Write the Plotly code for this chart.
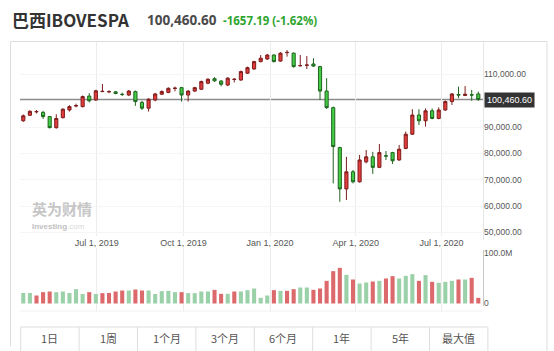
import plotly.graph_objects as go

W, H = 554, 351

# ---------------- data ----------------
dates = [
    "2019-04-14", "2019-04-21", "2019-04-28", "2019-05-05", "2019-05-12", "2019-05-19", "2019-05-26",
    "2019-06-02", "2019-06-09", "2019-06-16", "2019-06-23", "2019-06-30", "2019-07-07", "2019-07-14",
    "2019-07-21", "2019-07-28", "2019-08-04", "2019-08-11", "2019-08-18", "2019-08-25", "2019-09-01",
    "2019-09-08", "2019-09-15", "2019-09-22", "2019-09-29", "2019-10-06", "2019-10-13", "2019-10-20",
    "2019-10-27", "2019-11-03", "2019-11-10", "2019-11-17", "2019-11-24", "2019-12-01", "2019-12-08",
    "2019-12-15", "2019-12-22", "2019-12-29", "2020-01-05", "2020-01-12", "2020-01-19", "2020-01-26",
    "2020-02-02", "2020-02-09", "2020-02-16", "2020-02-23", "2020-03-01", "2020-03-08", "2020-03-15",
    "2020-03-22", "2020-03-29", "2020-04-05", "2020-04-12", "2020-04-19", "2020-04-26", "2020-05-03",
    "2020-05-10", "2020-05-17", "2020-05-24", "2020-05-31", "2020-06-07", "2020-06-14", "2020-06-21",
    "2020-06-28", "2020-07-05", "2020-07-12", "2020-07-19", "2020-07-26", "2020-08-02", "2020-08-09",
]
open_k = [92.4, 94.5, 95.8, 95.6, 94.0, 89.8, 93.6, 96.5, 98.0, 97.8, 101.8, 100.3, 103.5, 103.4,
          103.4, 102.5, 102.2, 103.5, 99.4, 97.2, 100.3, 102.5, 103.2, 104.7, 105.0, 102.2, 103.7, 104.4,
          106.7, 108.4, 107.5, 106.0, 108.1, 107.9, 110.5, 112.1, 114.9, 115.9, 117.4, 115.1, 118.3, 118.1,
          113.3, 113.5, 114.0, 113.0, 103.7, 97.4, 82.2, 66.5, 73.0, 69.2, 76.8, 78.7, 74.7, 79.1,
          80.3, 77.5, 81.9, 87.3, 94.6, 92.4, 96.2, 93.3, 96.5, 99.7, 102.4, 102.0, 102.3, 102.6]
high_k = [94.8, 96.4, 96.5, 96.2, 94.2, 94.9, 97.2, 98.3, 98.9, 102.0, 102.9, 104.2, 106.4, 104.0,
          103.7, 103.1, 104.1, 103.9, 100.0, 101.0, 103.0, 104.0, 105.1, 105.4, 105.3, 104.0, 105.3, 107.7,
          108.6, 109.0, 107.9, 109.0, 108.6, 111.5, 113.0, 115.2, 117.4, 117.8, 117.7, 118.5, 119.3, 118.4,
          117.4, 117.0, 116.2, 113.3, 108.6, 97.8, 82.5, 78.7, 73.7, 79.4, 81.3, 80.6, 83.6, 80.9,
          80.6, 83.2, 88.3, 96.8, 96.8, 97.1, 97.1, 97.5, 100.1, 102.9, 105.4, 105.6, 104.1, 103.5]
low_k = [92.0, 94.2, 95.2, 93.1, 89.5, 89.4, 93.3, 95.9, 97.5, 97.5, 99.4, 100.0, 103.3, 102.9,
         102.5, 101.8, 101.8, 98.1, 96.5, 95.9, 99.8, 102.2, 102.9, 103.6, 99.7, 99.7, 103.4, 104.1,
         106.3, 107.2, 105.5, 105.6, 107.0, 107.6, 110.2, 111.8, 114.6, 115.5, 114.6, 114.9, 116.8, 112.6,
         113.1, 112.1, 112.9, 100.3, 96.9, 68.6, 61.6, 62.3, 68.6, 68.9, 76.2, 72.2, 74.4, 77.5,
         76.0, 77.2, 81.6, 87.0, 90.8, 90.2, 93.0, 93.0, 96.2, 98.4, 101.0, 101.8, 100.0, 100.0]
close_k = [94.3, 96.0, 95.9, 94.0, 89.8, 93.3, 96.8, 97.8, 98.2, 101.6, 100.0, 103.8, 103.6, 103.5,
           102.8, 102.4, 103.7, 99.7, 97.2, 100.6, 102.6, 103.5, 104.75, 104.8, 102.2, 103.7, 105.0, 107.3,
           108.2, 107.6, 106.3, 108.6, 108.2, 111.1, 112.6, 114.9, 116.2, 117.4, 114.9, 118.1, 118.4, 113.0,
           113.4, 113.6, 113.2, 103.7, 97.4, 82.6, 66.5, 73.0, 69.2, 77.5, 78.7, 74.7, 80.3, 79.0,
           77.2, 81.6, 87.3, 94.6, 92.4, 96.2, 93.3, 96.5, 99.7, 102.6, 102.2, 102.5, 102.2, 100.4606]

volume_m = [21, 21, 16, 22.7, 24, 22.7, 24, 21, 28.7, 19, 22.7, 19, 20.7, 21,
            24, 26, 26, 28, 26, 26, 19, 24.7, 25.3, 22.7, 22.7, 20.7, 20.7, 24,
            24, 27.3, 19.3, 19.3, 24, 24, 26.7, 30, 11.3, 16, 26.7, 25.3, 25.3, 28.7,
            32, 32, 27.3, 30, 45.3, 64.7, 71.3, 57.3, 48, 40, 42, 44, 45.3, 50,
            54.7, 50, 55.3, 58.7, 45.3, 56.7, 43.3, 41.3, 43.3, 45.3, 48, 48, 51.3, 11.3]
volume_dir = ["G", "G", "R", "R", "R", "G", "G", "G", "G", "G", "R", "G", "R", "R",
              "R", "R", "G", "R", "R", "G", "G", "G", "G", "G", "R", "G", "G", "G",
              "G", "R", "R", "G", "R", "G", "G", "G", "G", "G", "R", "G", "R", "R",
              "G", "G", "R", "R", "R", "R", "R", "G", "R", "G", "G", "R", "G", "R",
              "R", "G", "G", "G", "R", "G", "R", "G", "G", "G", "R", "G", "R", "R"]

last_price = 100460.60
x_tick_vals = ["2019-07-01", "2019-10-01", "2020-01-01", "2020-04-01", "2020-07-01"]
x_tick_text = ["Jul 1, 2019", "Oct 1, 2019", "Jan 1, 2020", "Apr 1, 2020", "Jul 1, 2020"]
y_tick_vals = [50000, 60000, 70000, 80000, 90000, 110000]
y_tick_text = ["50,000.00", "60,000.00", "70,000.00", "80,000.00", "90,000.00", "110,000.00"]
vol_tick_vals = [0, 100]
vol_tick_text = ["0", "100.0M"]
period_buttons = ["1日", "1周", "1个月", "3个月", "6个月", "1年", "5年", "最大值"]

# ---------------- helpers ----------------
def px_x(px):
    return px / W

def px_y(py):
    return 1 - py / H

k = 1000.0
opens = [v * k for v in open_k]
highs = [v * k for v in high_k]
lows = [v * k for v in low_k]
closes = [v * k for v in close_k]

vol_colors = ["#9bd1a9" if d == "G" else "#dc6a6c" for d in volume_dir]

fig = go.Figure()
fig.add_trace(go.Candlestick(
    x=dates, open=opens, high=highs, low=lows, close=closes,
    increasing=dict(fillcolor="#e23c3c", line=dict(color="#7e1d1d", width=1)),
    decreasing=dict(fillcolor="#43cc43", line=dict(color="#1f651f", width=1)),
    whiskerwidth=0, xaxis="x", yaxis="y", showlegend=False, hoverinfo="skip",
))
fig.add_trace(go.Bar(
    x=dates, y=volume_m, marker=dict(color=vol_colors, line=dict(width=0)),
    xaxis="x2", yaxis="y2", showlegend=False, hoverinfo="skip",
))

x_dom = [px_x(20), px_x(483)]
x_range = ["2019-04-10 12:00", "2020-08-14"]
axis_font = dict(family="Liberation Sans, Arial", size=9, color="#555555")

fig.update_layout(
    width=W, height=H, margin=dict(l=0, r=0, t=0, b=0),
    paper_bgcolor="white", plot_bgcolor="white",
    boxgap=0.32, bargap=0.38,
    xaxis=dict(domain=x_dom, range=x_range, type="date", rangeslider=dict(visible=False),
               tickvals=x_tick_vals, ticktext=x_tick_text, showgrid=True, gridcolor="#ececec",
               gridwidth=1, zeroline=False, showline=False, ticks="", tickfont=axis_font,
               anchor="y"),
    yaxis=dict(domain=[px_y(236), px_y(42)], range=[48598, 122357], side="right",
               tickvals=y_tick_vals, ticktext=y_tick_text, showgrid=True, gridcolor="#f5f5f5",
               zeroline=False, showline=False, ticks="",
               tickfont=dict(family="Liberation Sans, Arial", size=8.5, color="#555555"),
               anchor="x"),
    xaxis2=dict(domain=x_dom, range=x_range, type="date", tickvals=x_tick_vals,
                showticklabels=False, showgrid=True, gridcolor="#ececec", zeroline=False,
                showline=False, ticks="", anchor="y2"),
    yaxis2=dict(domain=[px_y(311), px_y(248)], range=[-15, 111], side="right",
                tickvals=vol_tick_vals, ticktext=vol_tick_text, showgrid=False,
                zeroline=False, showline=False, ticks="",
                tickfont=dict(family="Liberation Sans, Arial", size=8.5, color="#555555"),
                anchor="x2"),
)

shapes = []
line_gray = dict(color="#dddddd", width=1)
# outer frame
shapes.append(dict(type="line", xref="paper", yref="paper", x0=px_x(10.5), x1=px_x(547),
                   y0=px_y(41.5), y1=px_y(41.5), line=line_gray))
shapes.append(dict(type="line", xref="paper", yref="paper", x0=px_x(10.5), x1=px_x(10.5),
                   y0=px_y(41.5), y1=px_y(346), line=line_gray))
shapes.append(dict(type="line", xref="paper", yref="paper", x0=px_x(547), x1=px_x(547),
                   y0=px_y(41.5), y1=px_y(351), line=line_gray))
# plot right border
shapes.append(dict(type="line", xref="paper", yref="paper", x0=px_x(483.5), x1=px_x(483.5),
                   y0=px_y(42), y1=px_y(240), line=dict(color="#e6e6e6", width=1)))
shapes.append(dict(type="line", xref="paper", yref="paper", x0=px_x(483.5), x1=px_x(483.5),
                   y0=px_y(250), y1=px_y(306), line=dict(color="#c8c8c8", width=1)))
# volume pane bottom faint line
shapes.append(dict(type="line", xref="paper", yref="paper", x0=px_x(20), x1=px_x(483),
                   y0=px_y(311), y1=px_y(311), line=dict(color="#f0f0f0", width=1)))
# last price line
shapes.append(dict(type="line", xref="paper", yref="y", x0=px_x(20), x1=px_x(483),
                   y0=last_price, y1=last_price, line=dict(color="#8c8c8c", width=1.5),
                   layer="below"))
# period buttons
cell_w = 58.4
x_left = 20.7
shapes.append(dict(type="line", xref="paper", yref="paper", x0=px_x(x_left),
                   x1=px_x(x_left + cell_w * len(period_buttons)), y0=px_y(327), y1=px_y(327),
                   line=line_gray))
for i in range(len(period_buttons) + 1):
    xx = x_left + cell_w * i
    shapes.append(dict(type="line", xref="paper", yref="paper", x0=px_x(xx), x1=px_x(xx),
                       y0=px_y(327), y1=px_y(351), line=line_gray))
fig.update_layout(shapes=shapes)

ann = []
ann.append(dict(xref="paper", yref="paper", x=px_x(10), y=px_y(20), xanchor="left", yanchor="middle",
                text="<b>巴西IBOVESPA</b>", showarrow=False,
                font=dict(family="Noto Sans CJK SC", size=17, color="#333333")))
ann.append(dict(xref="paper", yref="paper", x=px_x(145), y=px_y(20.5), xanchor="left", yanchor="middle",
                text="<b>100,460.60</b>", showarrow=False,
                font=dict(family="Noto Sans", size=13.5, color="#4a4a4a")))
ann.append(dict(xref="paper", yref="paper", x=px_x(221), y=px_y(20.5), xanchor="left", yanchor="middle",
                text="<b>-1657.19 (-1.62%)</b>", showarrow=False,
                font=dict(family="Noto Sans", size=11.5, color="#2ea52e")))
# price tag
ann.append(dict(xref="paper", yref="y", x=px_x(484), y=last_price, xanchor="left", yanchor="middle",
                text="100,460.60", showarrow=False, bgcolor="#333333", borderpad=2,
                font=dict(family="Liberation Sans, Arial", size=9, color="white")))
# watermark
ann.append(dict(xref="paper", yref="paper", x=px_x(30), y=px_y(208.5), xanchor="left", yanchor="middle",
                text="<b>英为财情</b>", showarrow=False,
                font=dict(family="Noto Sans CJK SC", size=15, color="#c6c6c6")))
ann.append(dict(xref="paper", yref="paper", x=px_x(30), y=px_y(226), xanchor="left", yanchor="middle",
                text="<b>Investing</b><span style='color:#d8d8d8'>.com</span>", showarrow=False,
                font=dict(family="Liberation Sans, Arial", size=8, color="#c0c0c0")))
for i, lab in enumerate(period_buttons):
    ann.append(dict(xref="paper", yref="paper", x=px_x(x_left + cell_w * (i + 0.5)), y=px_y(338),
                    xanchor="center", yanchor="middle", text=lab, showarrow=False,
                    font=dict(family="Noto Sans CJK SC", size=11, color="#555555")))
fig.update_layout(annotations=ann)

fig.write_html("out.html")
